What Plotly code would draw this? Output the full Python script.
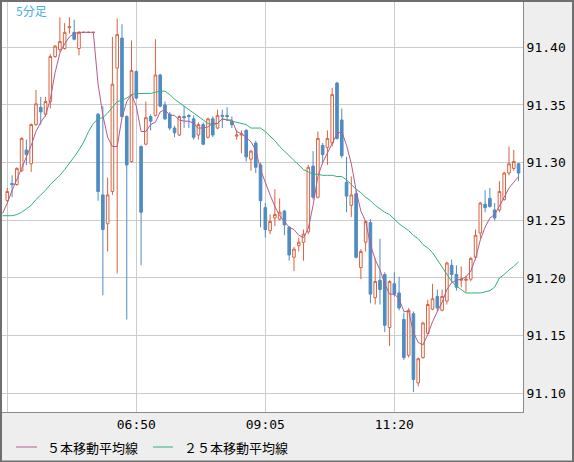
import plotly.graph_objects as go

# ---- data (5-minute candles) ----
START = (4, 35)  # first bar time 04:35
opens = [91.267, 91.282, 91.281, 91.293, 91.311, 91.299, 91.333, 91.348, 91.342, 91.353,
         91.392, 91.398, 91.399, 91.417, 91.413, 91.399, 91.413, 91.413, 91.413, 91.342,
         91.272, 91.247, 91.275, 91.382, 91.408, 91.340, 91.301, 91.379, 91.314, 91.316,
         91.340, 91.341, 91.376, 91.350, 91.342, 91.330, 91.324, 91.340, 91.341, 91.338,
         91.324, 91.333, 91.322, 91.338, 91.330, 91.341, 91.341, 91.336, 91.323, 91.324,
         91.328, 91.303, 91.317, 91.298, 91.261, 91.241, 91.252, 91.251, 91.258, 91.244,
         91.218, 91.228, 91.231, 91.240, 91.297, 91.270, 91.315, 91.313, 91.317, 91.369,
         91.337, 91.283, 91.263, 91.273, 91.209, 91.231, 91.248, 91.183, 91.198, 91.203,
         91.157, 91.195, 91.187, 91.164, 91.133, 91.169, 91.109, 91.131, 91.152, 91.173,
         91.184, 91.172, 91.180, 91.211, 91.203, 91.198, 91.198, 91.199, 91.218, 91.239,
         91.264, 91.269, 91.259, 91.259, 91.268, 91.291, 91.295, 91.299]
highs = [91.278, 91.289, 91.296, 91.322, 91.320, 91.334, 91.363, 91.357, 91.357, 91.394,
         91.402, 91.426, 91.421, 91.426, 91.424, 91.414, 91.413, 91.413, 91.413, 91.343,
         91.349, 91.287, 91.409, 91.425, 91.420, 91.341, 91.406, 91.380, 91.315, 91.353,
         91.342, 91.407, 91.377, 91.353, 91.344, 91.332, 91.341, 91.349, 91.342, 91.341,
         91.335, 91.335, 91.339, 91.340, 91.346, 91.346, 91.348, 91.340, 91.328, 91.328,
         91.329, 91.311, 91.319, 91.300, 91.265, 91.255, 91.277, 91.269, 91.259, 91.245,
         91.227, 91.235, 91.242, 91.298, 91.310, 91.327, 91.317, 91.328, 91.365, 91.370,
         91.347, 91.305, 91.288, 91.276, 91.225, 91.250, 91.251, 91.217, 91.234, 91.205,
         91.198, 91.205, 91.201, 91.170, 91.174, 91.171, 91.131, 91.162, 91.181, 91.195,
         91.190, 91.190, 91.214, 91.216, 91.211, 91.210, 91.202, 91.218, 91.242, 91.266,
         91.276, 91.278, 91.265, 91.284, 91.292, 91.314, 91.311, 91.300]
lows = [91.266, 91.270, 91.280, 91.292, 91.298, 91.292, 91.332, 91.333, 91.340, 91.347,
        91.391, 91.396, 91.398, 91.412, 91.406, 91.393, 91.413, 91.413, 91.413, 91.267,
        91.185, 91.223, 91.272, 91.204, 91.339, 91.164, 91.300, 91.355, 91.211, 91.315,
        91.328, 91.340, 91.348, 91.337, 91.328, 91.322, 91.323, 91.330, 91.330, 91.320,
        91.320, 91.315, 91.321, 91.322, 91.329, 91.330, 91.336, 91.330, 91.320, 91.308,
        91.301, 91.293, 91.291, 91.244, 91.235, 91.238, 91.245, 91.250, 91.237, 91.215,
        91.206, 91.223, 91.215, 91.238, 91.268, 91.269, 91.300, 91.298, 91.314, 91.320,
        91.304, 91.257, 91.253, 91.217, 91.199, 91.223, 91.178, 91.177, 91.177, 91.153,
        91.141, 91.184, 91.172, 91.129, 91.131, 91.101, 91.106, 91.130, 91.151, 91.172,
        91.171, 91.171, 91.177, 91.196, 91.189, 91.192, 91.188, 91.197, 91.216, 91.234,
        91.257, 91.261, 91.250, 91.257, 91.267, 91.289, 91.293, 91.284]
closes = [91.275, 91.281, 91.295, 91.321, 91.307, 91.333, 91.351, 91.344, 91.353, 91.392,
          91.401, 91.405, 91.413, 91.418, 91.407, 91.413, 91.413, 91.413, 91.413, 91.275,
          91.242, 91.272, 91.368, 91.411, 91.340, 91.298, 91.380, 91.356, 91.257, 91.339,
          91.336, 91.376, 91.349, 91.338, 91.330, 91.326, 91.340, 91.339, 91.340, 91.322,
          91.333, 91.316, 91.338, 91.324, 91.341, 91.340, 91.340, 91.333, 91.324, 91.325,
          91.305, 91.310, 91.296, 91.267, 91.242, 91.249, 91.255, 91.257, 91.246, 91.220,
          91.225, 91.231, 91.238, 91.296, 91.270, 91.321, 91.307, 91.321, 91.359, 91.321,
          91.306, 91.271, 91.272, 91.218, 91.223, 91.249, 91.186, 91.197, 91.190, 91.159,
          91.197, 91.186, 91.174, 91.131, 91.172, 91.112, 91.130, 91.161, 91.177, 91.182,
          91.174, 91.184, 91.213, 91.203, 91.192, 91.199, 91.199, 91.217, 91.237, 91.265,
          91.261, 91.262, 91.252, 91.275, 91.291, 91.299, 91.301, 91.291]

# moving averages as drawn (first value belongs to the bar before 04:35)
ma5 = [91.256, 91.265, 91.276, 91.285, 91.295, 91.305, 91.315, 91.327, 91.335, 91.341,
       91.355, 91.378, 91.395, 91.403, 91.409, 91.412, 91.413, 91.413, 91.413, 91.413,
       91.368, 91.341, 91.322, 91.314, 91.314, 91.339, 91.353, 91.359, 91.349, 91.327,
       91.327, 91.333, 91.335, 91.344, 91.346, 91.341, 91.341, 91.337, 91.336, 91.336,
       91.334, 91.330, 91.330, 91.331, 91.334, 91.334, 91.338, 91.337, 91.337, 91.327,
       91.325, 91.322, 91.318, 91.311, 91.294, 91.282, 91.272, 91.262, 91.254, 91.249,
       91.244, 91.242, 91.237, 91.235, 91.243, 91.263, 91.288, 91.300, 91.308, 91.317,
       91.325, 91.327, 91.315, 91.299, 91.276, 91.258, 91.249, 91.229, 91.216, 91.207,
       91.195, 91.186, 91.186, 91.182, 91.171, 91.171, 91.153, 91.144, 91.142, 91.151,
       91.162, 91.171, 91.179, 91.190, 91.196, 91.198, 91.199, 91.201, 91.206, 91.217,
       91.233, 91.244, 91.252, 91.255, 91.262, 91.270, 91.278, 91.283, 91.288]
ma25 = [91.254, 91.254, 91.254, 91.255, 91.257, 91.260, 91.263, 91.268, 91.272, 91.276,
        91.281, 91.285, 91.289, 91.294, 91.299, 91.305, 91.311, 91.318, 91.327, 91.334,
        91.338, 91.339, 91.343, 91.348, 91.353, 91.354, 91.356, 91.359, 91.360, 91.360,
        91.360, 91.360, 91.361, 91.362, 91.362, 91.359, 91.355, 91.352, 91.349, 91.346,
        91.343, 91.340, 91.337, 91.334, 91.333, 91.334, 91.338, 91.337, 91.336, 91.335,
        91.334, 91.333, 91.330, 91.330, 91.330, 91.327, 91.323, 91.319, 91.314, 91.310,
        91.306, 91.302, 91.298, 91.294, 91.292, 91.290, 91.290, 91.289, 91.289, 91.289,
        91.288, 91.288, 91.285, 91.281, 91.277, 91.274, 91.270, 91.267, 91.263, 91.260,
        91.257, 91.255, 91.251, 91.247, 91.244, 91.241, 91.237, 91.234, 91.229, 91.226,
        91.222, 91.216, 91.210, 91.204, 91.197, 91.193, 91.190, 91.187, 91.187, 91.187,
        91.187, 91.188, 91.189, 91.192, 91.200, 91.203, 91.207, 91.210, 91.214]

TICK_LABELS = ["04:35", "06:50", "09:05", "11:20"]
Y_TICKS = [91.10, 91.15, 91.20, 91.25, 91.30, 91.35, 91.40]
TITLE = "5分足"
LEGEND_NAMES = ["５本移動平均線", "２５本移動平均線"]

# ---- styling ----
RED = "#d9633f"
BLUE = "#4f8cc2"
MA5_COLOR = "#b45c8c"
MA25_COLOR = "#2fb27a"
GRID = "#cccccc"
FRAME = "#8a8a8a"
OUTER = "#6f6f6f"
BG = "#eeeeee"

W, H = 574, 462
L, R, T, B = 2, 51, 2, 50
PW, PH = W - L - R, H - T - B

n = len(opens)
times = []
for i in range(n):
    m = START[0] * 60 + START[1] + 5 * i
    times.append(f"{m // 60:02d}:{m % 60:02d}")
xs = list(range(n))
ma_x = list(range(-1, n))

tickvals = [times.index(t) for t in TICK_LABELS]
ticktext = ["" if i == 0 else t for i, t in enumerate(TICK_LABELS)]

fig = go.Figure()
fig.add_trace(go.Candlestick(
    x=xs, open=opens, high=highs, low=lows, close=closes,
    increasing=dict(line=dict(color=RED, width=1), fillcolor="white"),
    decreasing=dict(line=dict(color=BLUE, width=1), fillcolor=BLUE),
    whiskerwidth=0, showlegend=False, hoverinfo="skip",
))
fig.add_trace(go.Scatter(x=ma_x, y=ma25, mode="lines",
                         line=dict(color=MA25_COLOR, width=1), showlegend=False, hoverinfo="skip"))
fig.add_trace(go.Scatter(x=ma_x, y=ma5, mode="lines",
                         line=dict(color=MA5_COLOR, width=1), showlegend=False, hoverinfo="skip"))

px_per_bar = 4.778
first_grid_px = 7.3
k_left = -(first_grid_px - L) / px_per_bar
k_right = k_left + PW / px_per_bar

fig.update_layout(
    width=W, height=H,
    margin=dict(l=L, r=R, t=T, b=B, pad=0),
    paper_bgcolor=BG, plot_bgcolor="white",
    boxgap=0.22,
    font=dict(family="DejaVu Sans Mono", size=13, color="#000000"),
    xaxis=dict(
        range=[k_left, k_right], rangeslider=dict(visible=False),
        tickmode="array", tickvals=tickvals, ticktext=ticktext,
        showgrid=True, gridcolor=GRID, gridwidth=1, zeroline=False,
        showline=True, linecolor=FRAME, linewidth=1, mirror=True,
        ticks="", tickfont=dict(family="DejaVu Sans Mono", size=13, color="#000"),
    ),
    yaxis=dict(
        range=[91.0838, 91.4393], side="right",
        tickmode="array", tickvals=Y_TICKS, ticktext=[f"{v:.2f}" for v in Y_TICKS],
        showgrid=True, gridcolor=GRID, gridwidth=1, zeroline=False,
        showline=True, linecolor=FRAME, linewidth=1, mirror=True,
        ticks="", tickfont=dict(family="DejaVu Sans Mono", size=13, color="#000"),
    ),
)


def px_x(p):
    return (p - L) / PW


def px_y(p):
    return 1 - (p - T) / PH


# outer frame of the whole widget
fig.add_shape(type="rect", xref="paper", yref="paper",
              x0=px_x(1), x1=px_x(573), y0=px_y(461.5), y1=px_y(1),
              line=dict(color=OUTER, width=2), fillcolor="rgba(0,0,0,0)", layer="above")

# title label
fig.add_annotation(text=TITLE, xref="paper", yref="paper", x=px_x(14), y=px_y(10),
                   xanchor="left", yanchor="middle", showarrow=False,
                   font=dict(family="Noto Sans CJK JP", size=12, color="#45b0e5"))

# legend (drawn manually)
leg = [(16, 37, 45, MA5_COLOR, LEGEND_NAMES[0]), (153, 173, 182, MA25_COLOR, LEGEND_NAMES[1])]
for x0, x1, tx, col, name in leg:
    fig.add_shape(type="line", xref="paper", yref="paper",
                  x0=px_x(x0), x1=px_x(x1), y0=px_y(447), y1=px_y(447),
                  line=dict(color=col, width=1))
    fig.add_annotation(text=name, xref="paper", yref="paper", x=px_x(tx), y=px_y(447),
                       xanchor="left", yanchor="middle", showarrow=False,
                       font=dict(family="Noto Sans CJK JP", size=13, color="#000"))

fig.write_html("out.html")
